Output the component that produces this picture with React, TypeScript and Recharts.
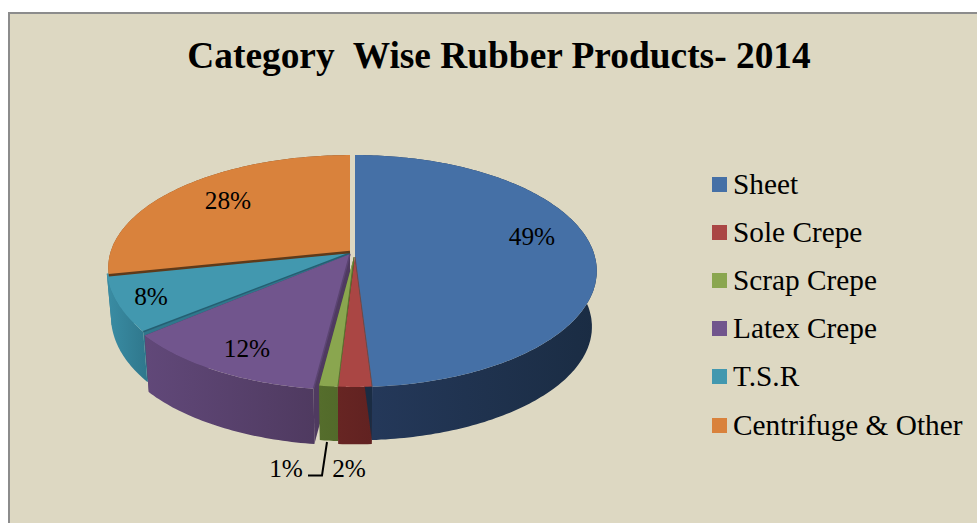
import { Legend, Pie, PieChart } from "recharts";

const CATEGORIES = ["Sheet", "Sole Crepe", "Scrap Crepe", "Latex Crepe", "T.S.R", "Centrifuge & Other"];
const SHARES = [49, 2, 1.1, 12.4, 7.5, 28];

const TOP_COLORS = ["#4570a6", "#aa4644", "#8aa64f", "#71558d", "#4298af", "#d9823c"];
const WALL_LEFT = ["#25395b", "#672523", "#556d2c", "#614879", "#3a8da4", "#8a5426"];
const WALL_RIGHT = ["#1a2c43", "#612221", "#526a2a", "#4f3a60", "#2f778c", "#6b4020"];
const EDGE_COLORS = ["#4570a6", "#6b4a4a", "#5b7030", "#5b4472", "#255f72", "#5e3a1a"];
const EDGE_WIDTHS = [0, 1, 1, 1.5, 1.5, 2.5];

// rim centre offset, wedge tip offset, vertical stretch, wall height for each slice
const RIM_DX = [0, 0, 0, -5.5, -7, -5];
const RIM_DY = [0, 0, 0, 3, -7, -3];
const TIP_DX = [0, 0, -1, -5, -5, -5];
const TIP_DY = [0, 0, 0, -3, -4, -5];
const STRETCH_Y = [1, 1, 1, 1, 1.08, 0.97];
const WALL_H = [56, 60, 57, 58, 52, 50];

const LABEL_X = [532, 349, 286, 247, 151, 228];
const LABEL_Y = [245, 477, 477, 357, 305, 209];

const tableData = CATEGORIES.map((name, i) => ({ name, value: SHARES[i], fill: TOP_COLORS[i] }));
const reversedData = [...tableData].reverse();

const PERSPECTIVE = 0.1207;
const FLATTEN = 0.476;
const SERIF = "'Liberation Serif', serif";

function rim(theta: number, radius: number) {
  const rad = (theta * Math.PI) / 180;
  const u = Math.sin(rad);
  const v = -Math.cos(rad);
  const d = 1 - PERSPECTIVE * v;
  return { x: (radius * u) / d, y: (radius * FLATTEN * v) / d };
}

function sampleAngles(from: number, to: number) {
  const steps = Math.max(2, Math.ceil(Math.abs(to - from)));
  const list: number[] = [];
  for (let s = 0; s <= steps; s++) list.push(from + ((to - from) * s) / steps);
  return list;
}

function toPoints(list: { x: number; y: number }[]) {
  return list.map((p) => `${p.x.toFixed(1)},${p.y.toFixed(1)}`).join(" ");
}

function WallShape(props: any) {
  const { cx, cy, outerRadius, startAngle, endAngle, name } = props;
  const i = CATEGORIES.indexOf(name);
  const rx = cx + RIM_DX[i];
  const ry = cy + RIM_DY[i];
  const angles = sampleAngles(90 - startAngle, 90 - endAngle);
  const upper = angles.map((t) => {
    const p = rim(t, outerRadius);
    return { x: rx + p.x, y: ry + p.y * STRETCH_Y[i] };
  });
  const lower = angles.map((t) => {
    const p = rim(t, outerRadius);
    return { x: rx + p.x * 0.98, y: ry + p.y * 0.98 * STRETCH_Y[i] + WALL_H[i] };
  });
  const tip = { x: cx + TIP_DX[i], y: cy + TIP_DY[i] };
  const tipLow = { x: tip.x, y: tip.y + WALL_H[i] };
  const gradientId = `wall-${i}`;
  return (
    <g>
      <defs>
        <linearGradient id={gradientId} x1="0" x2="1" y1="0" y2="0">
          <stop offset="0%" stopColor={WALL_LEFT[i]} />
          <stop offset="100%" stopColor={WALL_RIGHT[i]} />
        </linearGradient>
      </defs>
      <polygon points={toPoints([tip, upper[0], lower[0], tipLow])} fill={WALL_RIGHT[i]} />
      <polygon points={toPoints([tip, upper[upper.length - 1], lower[lower.length - 1], tipLow])} fill={WALL_RIGHT[i]} />
      <polygon points={toPoints([...upper, ...[...lower].reverse()])} fill={`url(#${gradientId})`} />
    </g>
  );
}

function TopShape(props: any) {
  const { cx, cy, outerRadius, startAngle, endAngle, name, fill } = props;
  const i = CATEGORIES.indexOf(name);
  const rx = cx + RIM_DX[i];
  const ry = cy + RIM_DY[i];
  const upper = sampleAngles(90 - startAngle, 90 - endAngle).map((t) => {
    const p = rim(t, outerRadius);
    return { x: rx + p.x, y: ry + p.y * STRETCH_Y[i] };
  });
  const tip = { x: cx + TIP_DX[i], y: cy + TIP_DY[i] };
  return (
    <g>
      <polygon points={toPoints([tip, ...upper])} fill={fill} />
      {EDGE_WIDTHS[i] > 0 && (
        <polyline points={toPoints([tip, upper[0]])} fill="none" stroke={EDGE_COLORS[i]} strokeWidth={EDGE_WIDTHS[i]} />
      )}
    </g>
  );
}

function PercentLabel(props: any) {
  const { percent, index } = props;
  return (
    <g>
      {index === 2 && <polyline points="327,442 322,475.5 308,475.5" fill="none" stroke="#000" strokeWidth={2} />}
      <text x={LABEL_X[index]} y={LABEL_Y[index]} textAnchor="middle" fontFamily={SERIF} fontSize={25.3} fill="#000">
        {`${Math.round(percent * 100)}%`}
      </text>
    </g>
  );
}

function LegendList() {
  return (
    <div>
      {CATEGORIES.map((name, i) => (
        <div key={name} style={{ display: "flex", alignItems: "center", height: 48.2 }}>
          <span style={{ width: 15, height: 15, background: TOP_COLORS[i], marginRight: 6, flexShrink: 0 }} />
          <span style={{ fontFamily: SERIF, fontSize: 29.3, color: "#000", whiteSpace: "nowrap" }}>{name}</span>
        </div>
      ))}
    </div>
  );
}

export default function App() {
  return (
    <div style={{ position: "absolute", left: 0, top: 0, width: 977, height: 523, overflow: "hidden", background: "#fff" }}>
      <div
        style={{
          position: "absolute",
          left: 8,
          top: 12,
          width: 980,
          height: 520,
          background: "#ddd8c2",
          borderLeft: "2px solid #8c8c8c",
          borderTop: "2px solid #8c8c8c"
        }}
      />
      <div
        style={{
          position: "absolute",
          left: 0,
          top: 34,
          width: 998,
          textAlign: "center",
          fontFamily: SERIF,
          fontWeight: "bold",
          fontSize: 37.4,
          lineHeight: "44px",
          whiteSpace: "pre",
          color: "#000"
        }}
      >
        Category  Wise Rubber Products- 2014
      </div>
      <div style={{ position: "absolute", left: 0, top: 0 }}>
        <PieChart width={977} height={523} margin={{ top: 0, right: 0, bottom: 0, left: 0 }}>
          <Pie
            data={reversedData}
            dataKey="value"
            nameKey="name"
            cx={355}
            cy={257}
            innerRadius={0}
            outerRadius={240}
            startAngle={90}
            endAngle={450}
            stroke="none"
            legendType="none"
            shape={WallShape}
            isAnimationActive={false}
          />
          <Pie
            data={tableData}
            dataKey="value"
            nameKey="name"
            cx={355}
            cy={257}
            innerRadius={0}
            outerRadius={240}
            startAngle={90}
            endAngle={-270}
            stroke="none"
            shape={TopShape}
            label={PercentLabel}
            labelLine={false}
            isAnimationActive={false}
          />
          <Legend
            layout="vertical"
            align="right"
            verticalAlign="top"
            content={LegendList}
            wrapperStyle={{ position: "absolute", left: 712, top: 160, right: "auto", width: 265 }}
          />
        </PieChart>
      </div>
    </div>
  );
}
